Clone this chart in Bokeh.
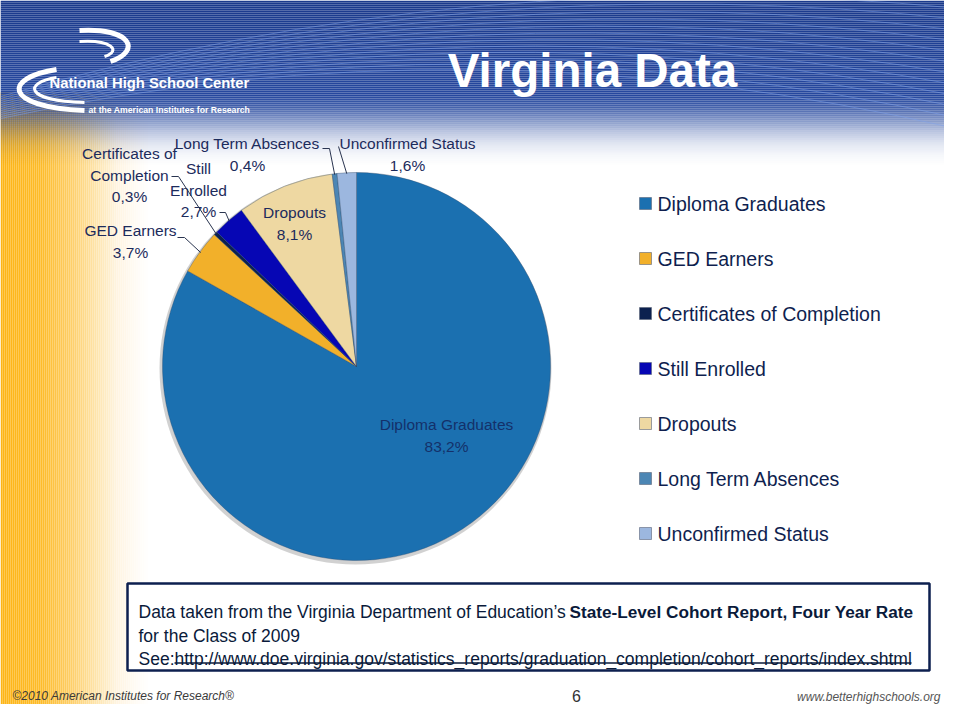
import numpy as np
from bokeh.plotting import figure
from bokeh.models import Range1d
from bokeh.core.properties import value
from bokeh.embed import file_html
from bokeh.resources import INLINE

# ---------------- data ----------------
categories = ["Diploma Graduates", "GED Earners", "Certificates of Completion",
              "Still Enrolled", "Dropouts", "Long Term Absences", "Unconfirmed Status"]
percentages = [83.2, 3.7, 0.3, 2.7, 8.1, 0.4, 1.6]
slice_colors = ["#1B70B0", "#F2B02A", "#0C214F", "#0606B4", "#EED8A2", "#4C86B4", "#9CB7DF"]
label_lines = [["Diploma Graduates"], ["GED Earners"], ["Certificates of", "Completion"],
               ["Still", "Enrolled"], ["Dropouts"], ["Long Term Absences"], ["Unconfirmed Status"]]
title_text = "Virginia Data"
source_lines = ["Data taken from the Virginia Department of Education\u2019s ",
                "State-Level Cohort Report, Four Year Rate",
                "for the Class of 2009", "See:",
                "http://www.doe.virginia.gov/statistics_reports/graduation_completion/cohort_reports/index.shtml"]
footer_left = "\u00a92010 American Institutes for Research\u00ae"
footer_page = "6"
footer_right = "www.betterhighschools.org"

SANS = "Liberation Sans"
NAVY = "#1C2B5C"

W, H = 944, 704


def Y(v):
    return H - v


p = figure(width=W, height=H, output_backend="svg", toolbar_location=None,
           x_range=Range1d(0, W), y_range=Range1d(0, H), min_border=0)
p.axis.visible = False
p.grid.visible = False
p.outline_line_color = None
p.background_fill_color = "white"
p.border_fill_color = "white"

# ---------------- background ----------------
def interp_color(pos, keys):
    xs = [k[0] for k in keys]
    cols = np.array([k[1] for k in keys], dtype=float)
    r = np.interp(pos, xs, cols[:, 0])
    g = np.interp(pos, xs, cols[:, 1])
    b = np.interp(pos, xs, cols[:, 2])
    return ["#%02x%02x%02x" % (int(a), int(c), int(d)) for a, c, d in zip(r, g, b)]

# orange strip on the left
ox = np.arange(0, 150, 2)
okeys = [(0, (253, 181, 21)), (40, (253, 188, 42)), (70, (254, 207, 105)),
         (95, (254, 229, 172)), (115, (255, 244, 224)), (135, (255, 252, 246)), (148, (255, 255, 255))]
p.quad(left=ox, right=ox + 2, top=Y(92), bottom=Y(H), fill_color=interp_color(ox, okeys), line_color=None)

# blue band at the top
by = np.arange(0, 164, 2)
bcols = interp_color(by, [(0, (27, 58, 140)), (90, (38, 72, 158)), (164, (38, 72, 158))])
balpha = np.interp(by, [0, 94, 106, 118, 130, 142, 154, 164], [1, 1, 0.85, 0.58, 0.32, 0.14, 0.04, 0])
p.quad(left=0, right=W, top=Y(by), bottom=Y(by + 2), fill_color=bcols, fill_alpha=balpha, line_color=None)

# thin curved light lines in the band
for k in range(12):
    p.quadratic(x0=0, y0=Y(96 + 2 * k), x1=960, y1=Y(8 + 11 * k), cx=470, cy=Y(-40 + 5 * k),
                line_color="#7FA3EE", line_alpha=0.5, line_width=1)

# ---------------- logo ----------------
p.bezier(x0=[79, 79], y0=[Y(30), Y(41)], x1=[110, 104], y1=[Y(61), Y(56)],
         cx0=[130, 110], cy0=[Y(27), Y(39)], cx1=[142, 122], cy1=[Y(50), Y(50)],
         line_color="white", line_width=[5, 3])
p.bezier(x0=[56, 56], y0=[Y(69), Y(77)], x1=[84, 84], y1=[Y(110), Y(102)],
         cx0=[4, 24], cy0=[Y(77), Y(82)], cx1=[0, 22], cy1=[Y(106), Y(100)],
         line_color="white", line_width=[5, 3])
p.text(x=[49], y=[Y(82)], text=["National High School Center"], text_color="white",
       text_font=value(SANS), text_font_style="bold", text_font_size="14.8px",
       text_baseline="middle", text_align="left")
p.text(x=[88], y=[Y(109)], text=["at the American Institutes for Research"], text_color="white",
       text_font=value(SANS), text_font_style="bold", text_font_size="8.7px",
       text_baseline="middle", text_align="left")

# title
p.text(x=[592], y=[Y(70)], text=[title_text], text_color="white", text_font=value(SANS),
       text_font_style="bold", text_font_size="47.5px", text_baseline="middle", text_align="center")

# ---------------- pie ----------------
cx, cy, R = 356, Y(366), 194
frac = np.array(percentages) / sum(percentages)
cum_end = np.cumsum(frac)
cum_start = cum_end - frac
start_ang = np.pi / 2 - 2 * np.pi * cum_end
end_ang = np.pi / 2 - 2 * np.pi * cum_start

p.circle(x=[cx - 1], y=[cy - 2], radius=R + 2, fill_color="#000000", fill_alpha=0.18, line_color=None)
p.wedge(x=cx, y=cy, radius=R, start_angle=start_ang, end_angle=end_ang,
        fill_color=slice_colors, line_color="#2D4A6A", line_alpha=0.45, line_width=0.8)

# data labels
label_anchor = [(446, 424), (130, 230), (129, 153), (198, 168), (294, 212), (247, 143), (407, 143)]
LS = 21.5
lx, ly, lt, lc = [], [], [], []
for i, (ax, ay) in enumerate(label_anchor):
    lines = label_lines[i] + [("%.1f" % percentages[i]).replace(".", ",") + "%"]
    for j, t in enumerate(lines):
        lx.append(ax)
        ly.append(Y(ay + j * LS))
        lt.append(t)
        lc.append("#14306A" if i == 0 else NAVY)
p.text(x=lx, y=ly, text=lt, text_color=lc, text_font=value(SANS), text_font_size="15.5px",
       text_baseline="middle", text_align="center")

# leader lines
leader_start = {1: [(177, 237), (184, 237)], 2: [(171, 176), (178, 176)],
                3: [(219, 212), (225, 212)], 5: [(322, 148), (329, 148)], 6: [(338, 146)]}
mid = np.pi / 2 - 2 * np.pi * (cum_start + frac / 2)
xs_l, ys_l = [], []
for i, pts in leader_start.items():
    ex = cx + (R - 1) * np.cos(mid[i])
    ey = cy + (R - 1) * np.sin(mid[i])
    xs_l.append([q[0] for q in pts] + [ex])
    ys_l.append([Y(q[1]) for q in pts] + [ey])
p.multi_line(xs=xs_l, ys=ys_l, line_color="#2A3550", line_width=1)

# ---------------- legend ----------------
leg_y = [Y(203 + 55 * i) for i in range(len(categories))]
p.rect(x=645, y=leg_y, width=12, height=12, fill_color=slice_colors, line_color="#5A6478", line_width=0.6)
p.text(x=657, y=leg_y, text=categories, text_color="#0F1F4F", text_font=value(SANS),
       text_font_size="19.5px", text_baseline="middle", text_align="left")

# ---------------- source box ----------------
p.quad(left=127, right=929, top=Y(583), bottom=Y(670), fill_color="white",
       line_color="#0D1F4F", line_width=2.5)
p.text(x=[138], y=[Y(611)], text=[source_lines[0]], text_color="#0A1A3A", text_font=value(SANS),
       text_font_size="17.5px", text_baseline="alphabetic", text_align="left")
p.text(x=[569], y=[Y(611)], text=[source_lines[1]], text_color="#0A1A3A", text_font=value(SANS),
       text_font_style="bold", text_font_size="17.2px", text_baseline="alphabetic", text_align="left")
p.text(x=[138, 138, 174], y=[Y(635), Y(658), Y(658)], text=source_lines[2:], text_color="#0A1A3A",
       text_font=value(SANS), text_font_size="17.5px", text_baseline="alphabetic", text_align="left")
p.segment(x0=[174], y0=[Y(662.5)], x1=[911], y1=[Y(662.5)], line_color="#0A1A3A", line_width=1.5)

# ---------------- footer ----------------
p.text(x=[12], y=[Y(695)], text=[footer_left], text_color="#3A3A3A", text_font=value(SANS),
       text_font_style="italic", text_font_size="12px", text_baseline="middle", text_align="left")
p.text(x=[576], y=[Y(695)], text=[footer_page], text_color="#333333", text_font=value(SANS),
       text_font_size="16px", text_baseline="middle", text_align="center")
p.text(x=[940], y=[Y(696)], text=[footer_right], text_color="#555555", text_font=value(SANS),
       text_font_style="italic", text_font_size="12px", text_baseline="middle", text_align="right")

open("out.html", "w").write(file_html(p, INLINE))
